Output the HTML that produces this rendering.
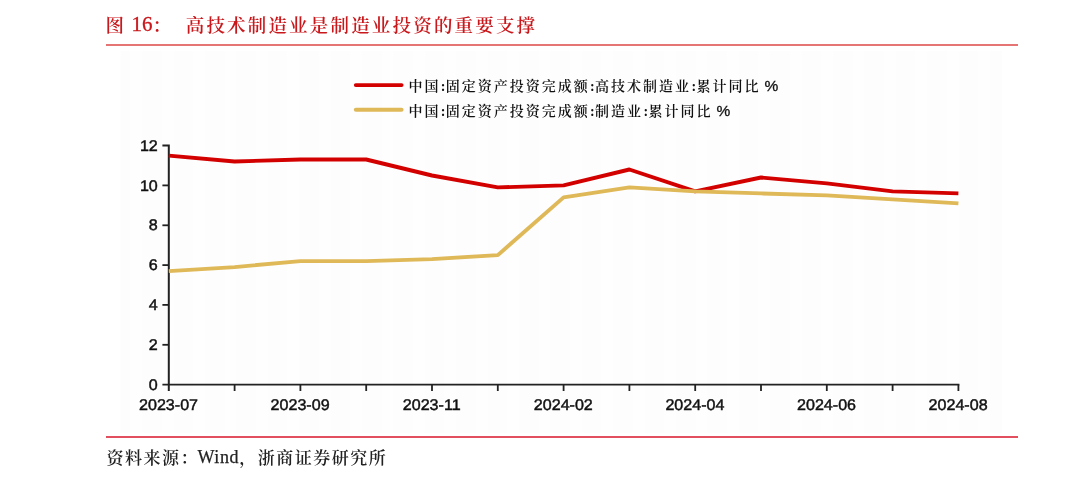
<!DOCTYPE html>
<html lang="zh"><head><meta charset="utf-8"><title>图 16</title>
<style>
html,body{margin:0;padding:0;background:#fff}
body{width:1080px;height:480px;position:relative;overflow:hidden;font-family:"Liberation Sans","Noto Sans CJK SC",sans-serif}
.abs{position:absolute;white-space:nowrap}
.title{left:105.5px;top:10px;height:30px;line-height:30px;color:#c9181c;font-family:"Liberation Serif","Noto Serif CJK SC",serif;font-size:21px}
.title .k{font-size:18.5px;letter-spacing:2.18px;font-weight:600}
.title .n{position:relative;top:-1px;-webkit-text-stroke:0.3px #c9181c}
.title .g{display:inline-block;width:12.6px}
.rule{position:absolute;left:106px;width:912px;background:#e57575}
.ax{font-family:"Liberation Sans",sans-serif;font-size:15.4px;fill:#111;stroke:#111;stroke-width:0.45px;text-rendering:geometricPrecision}
.leg{left:408.5px;height:24px;line-height:24px;font-family:"Liberation Serif","Noto Serif CJK SC",serif;font-size:14px;letter-spacing:2px;color:#111;font-weight:600}
.leg .c{display:inline-block;width:5.3px;letter-spacing:0;font-style:normal;text-align:center}
.leg .p{font-weight:400;font-family:"Liberation Sans",sans-serif;font-size:15.5px;letter-spacing:0;margin-left:4px;-webkit-text-stroke:0.3px #111}
.src{left:106.5px;top:444.5px;height:26px;line-height:26px;font-family:"Liberation Serif","Noto Serif CJK SC",serif;font-size:18px;color:#222}
.src .k{font-size:17px;letter-spacing:1.5px;font-weight:600}
.src .w{position:relative;top:-0.7px;letter-spacing:0.6px;margin-left:-1.5px;-webkit-text-stroke:0.25px #222}
</style></head><body>
<div class="abs title"><span class="k">图</span> <span class="n">16</span><span class="k">：</span><span class="g"></span><span class="k">高技术制造业是制造业投资的重要支撑</span></div>
<div class="rule" style="top:44px;height:2px"></div>
<svg class="abs" style="left:0;top:0" width="1080" height="480" viewBox="0 0 1080 480">
<defs><pattern id="bg" x="142.2" y="0" width="31.4" height="480" patternUnits="userSpaceOnUse"><rect x="0" y="0" width="31.4" height="480" fill="#fefefe"/><rect x="0" y="0" width="19" height="480" fill="#fdfdfd"/></pattern></defs>
<rect x="120.5" y="51" width="881.5" height="382" fill="url(#bg)"/>
<path d="M168.8 144.6 V391 M162.4 145.6 H168.8" stroke="#222" stroke-width="2" fill="none"/>
<path d="M162.4 384.6 H959.4" stroke="#222" stroke-width="1.8" fill="none"/>
<path d="M162.4 344.8 H168.8" stroke="#222" stroke-width="1.8"/>
<path d="M162.4 304.9 H168.8" stroke="#222" stroke-width="1.8"/>
<path d="M162.4 265.1 H168.8" stroke="#222" stroke-width="1.8"/>
<path d="M162.4 225.3 H168.8" stroke="#222" stroke-width="1.8"/>
<path d="M162.4 185.4 H168.8" stroke="#222" stroke-width="1.8"/>
<path d="M234.6 384.6 V391" stroke="#222" stroke-width="1.8"/>
<path d="M300.4 384.6 V391" stroke="#222" stroke-width="1.8"/>
<path d="M366.2 384.6 V391" stroke="#222" stroke-width="1.8"/>
<path d="M432.0 384.6 V391" stroke="#222" stroke-width="1.8"/>
<path d="M497.8 384.6 V391" stroke="#222" stroke-width="1.8"/>
<path d="M563.6 384.6 V391" stroke="#222" stroke-width="1.8"/>
<path d="M629.4 384.6 V391" stroke="#222" stroke-width="1.8"/>
<path d="M695.2 384.6 V391" stroke="#222" stroke-width="1.8"/>
<path d="M761.0 384.6 V391" stroke="#222" stroke-width="1.8"/>
<path d="M826.8 384.6 V391" stroke="#222" stroke-width="1.8"/>
<path d="M892.6 384.6 V391" stroke="#222" stroke-width="1.8"/>
<path d="M958.4 384.6 V391" stroke="#222" stroke-width="1.8"/>
<polyline points="168.8,155.6 234.6,161.5 300.4,159.5 366.2,159.5 432.0,175.5 497.8,187.4 563.6,185.4 629.4,169.5 695.2,191.4 761.0,177.5 826.8,183.4 892.6,191.4 958.4,193.4" fill="none" stroke="#d30000" stroke-width="3.9" stroke-linejoin="round"/>
<polyline points="168.8,271.1 234.6,267.1 300.4,261.1 366.2,261.1 432.0,259.1 497.8,255.1 563.6,197.4 629.4,187.4 695.2,191.4 761.0,193.4 826.8,195.4 892.6,199.4 958.4,203.4" fill="none" stroke="#dfb858" stroke-width="3.9" stroke-linejoin="round"/>
<path d="M355.8 85.1 H401.6" stroke="#d30000" stroke-width="3.9" stroke-linecap="round"/>
<path d="M355.8 109.8 H401.6" stroke="#dfb858" stroke-width="3.9" stroke-linecap="round"/>
<text class="ax" text-anchor="end" transform="translate(157.8 389.7) scale(1.045 1)">0</text>
<text class="ax" text-anchor="end" transform="translate(157.8 349.9) scale(1.045 1)">2</text>
<text class="ax" text-anchor="end" transform="translate(157.8 310.0) scale(1.045 1)">4</text>
<text class="ax" text-anchor="end" transform="translate(157.8 270.2) scale(1.045 1)">6</text>
<text class="ax" text-anchor="end" transform="translate(157.8 230.4) scale(1.045 1)">8</text>
<text class="ax" text-anchor="end" transform="translate(157.8 190.5) scale(1.045 1)">10</text>
<text class="ax" text-anchor="end" transform="translate(157.8 150.7) scale(1.045 1)">12</text>
<text class="ax" text-anchor="middle" transform="translate(168.5 410) scale(1.045 1)">2023-07</text>
<text class="ax" text-anchor="middle" transform="translate(300.1 410) scale(1.045 1)">2023-09</text>
<text class="ax" text-anchor="middle" transform="translate(431.7 410) scale(1.045 1)">2023-11</text>
<text class="ax" text-anchor="middle" transform="translate(563.3 410) scale(1.045 1)">2024-02</text>
<text class="ax" text-anchor="middle" transform="translate(694.9 410) scale(1.045 1)">2024-04</text>
<text class="ax" text-anchor="middle" transform="translate(826.5 410) scale(1.045 1)">2024-06</text>
<text class="ax" text-anchor="middle" transform="translate(958.1 410) scale(1.045 1)">2024-08</text>
</svg>

<div class="abs leg" style="top:74px">中国<i class="c">:</i>固定资产投资完成额<i class="c">:</i>高技术制造业<i class="c">:</i>累计同比<span class="p">%</span></div>
<div class="abs leg" style="top:98.5px">中国<i class="c">:</i>固定资产投资完成额<i class="c">:</i>制造业<i class="c">:</i>累计同比<span class="p">%</span></div>
<div class="rule" style="top:436px;height:1.5px;background:#e2505f"></div>
<div class="abs src"><span class="k">资料来源：</span><span class="w">Wind</span><span class="k">，浙商证券研究所</span></div>
</body></html>
